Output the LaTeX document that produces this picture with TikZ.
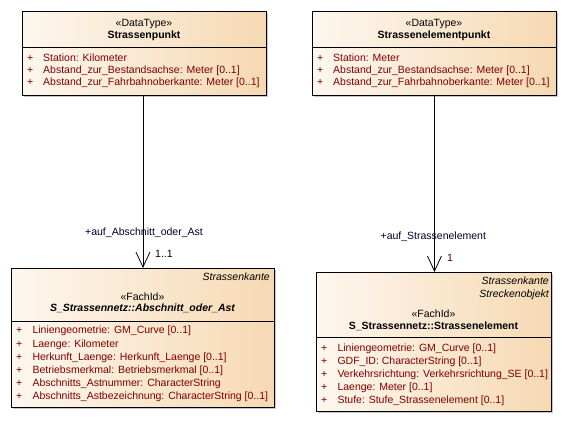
\documentclass[tikz,border=0pt]{standalone}
\usepackage{fontspec}
\setmainfont{Liberation Sans}
\usetikzlibrary{arrows.meta,shadows}
\definecolor{boxleft}{HTML}{FDF7EE}
\definecolor{boxright}{HTML}{F6D9B3}
\definecolor{attrred}{HTML}{800000}
\definecolor{rolenavy}{HTML}{00002A}
\tikzset{
	classbox/.style={draw=black, line width=0.9pt, left color=boxleft, right color=boxright, inner sep=0pt, anchor=north west,
		drop shadow={shadow xshift=2pt, shadow yshift=-2pt, fill=black!22, opacity=1}},
	txt/.style={font=\fontsize{10.5pt}{12pt}\selectfont, inner sep=0pt, text height=7.6pt, text depth=2pt},
	stereo/.style={txt},
	cname/.style={txt, font=\fontsize{10.5pt}{12pt}\selectfont\bfseries},
	attr/.style={txt, text=attrred, anchor=west},
	tagged/.style={txt, font=\fontsize{10.5pt}{12pt}\selectfont\itshape, anchor=east},
	assoc/.style={line width=0.8pt, -{Straight Barb[length=15pt, width=14pt, line width=0.8pt]}}
}

\begin{document}
\begin{tikzpicture}[x=1pt, y=-1pt]
			%%%%% START %%%%%
			\useasboundingbox (0,0) rectangle (566,441);
			
			% Strassenpunkt
			\node[classbox, minimum width=244pt, minimum height=84pt] (punkt) at (22,11) {};
			\draw[line width=0.9pt] (22,47) -- (266,47);
			\node[stereo] (punkt-st) at (144,23.3) {«DataType»};
			\node[cname] (punkt-nm) at (144,35.7) {Strassenpunkt};
			\foreach \y/\t [count=\i] in {58.3/Station: Kilometer, 70.7/Abstand\_zur\_Bestandsachse: Meter [0..1], 82.3/Abstand\_zur\_Fahrbahnoberkante: Meter [0..1]}{
				\node[attr] (punkt-p\i) at (27,\y) {+};
				\node[attr] (punkt-a\i) at (43,\y) {\t};
			}
			
			% Strassenelementpunkt
			\node[classbox, minimum width=244pt, minimum height=84pt] (elempunkt) at (312,11) {};
			\draw[line width=0.9pt] (312,47) -- (556,47);
			\node[stereo] (elempunkt-st) at (434,23.3) {«DataType»};
			\node[cname] (elempunkt-nm) at (434,35.7) {Strassenelementpunkt};
			\foreach \y/\t [count=\i] in {58.3/Station: Meter, 70.7/Abstand\_zur\_Bestandsachse: Meter [0..1], 82.3/Abstand\_zur\_Fahrbahnoberkante: Meter [0..1]}{
				\node[attr] (elempunkt-p\i) at (317,\y) {+};
				\node[attr] (elempunkt-a\i) at (333,\y) {\t};
			}
			
			% Abschnitt_oder_Ast
			\node[classbox, minimum width=263pt, minimum height=139pt] (abschnitt) at (11,268) {};
			\draw[line width=0.9pt] (11,321) -- (274,321);
			\node[tagged] (abschnitt-tg) at (270,277.3) {Strassenkante};
			\node[stereo] (abschnitt-st) at (142.5,297.3) {«FachId»};
			\node[cname, font=\fontsize{10.5pt}{12pt}\selectfont\bfseries\itshape] (abschnitt-nm) at (142.5,308.8) {S\_Strassennetz::Abschnitt\_oder\_Ast};
			\foreach \y/\t [count=\i] in {331/Liniengeometrie: GM\_Curve [0..1], 344.3/Laenge: Kilometer, 357.3/Herkunft\_Laenge: Herkunft\_Laenge [0..1], 370.3/Betriebsmerkmal: Betriebsmerkmal [0..1], 383.3/Abschnitts\_Astnummer: CharacterString, 396.3/Abschnitts\_Astbezeichnung: CharacterString [0..1]}{
				\node[attr] (abschnitt-p\i) at (16,\y) {+};
				\node[attr] (abschnitt-a\i) at (32.3,\y) {\t};
			}
			
			% Strassenelement
			\node[classbox, minimum width=235pt, minimum height=139pt] (element) at (316,272) {};
			\draw[line width=0.9pt] (316,337.3) -- (551,337.3);
			\node[tagged] (element-tg1) at (549,281.7) {Strassenkante};
			\node[tagged] (element-tg2) at (549,295) {Streckenobjekt};
			\node[stereo] (element-st) at (433.5,314.3) {«FachId»};
			\node[cname] (element-nm) at (433.5,326.7) {S\_Strassennetz::Strassenelement};
			\foreach \y/\t [count=\i] in {348.3/Liniengeometrie: GM\_Curve [0..1], 361.5/GDF\_ID: CharacterString [0..1], 374.5/Verkehrsrichtung: Verkehrsrichtung\_SE [0..1], 387.7/Laenge: Meter [0..1], 401/Stufe: Stufe\_Strassenelement [0..1]}{
				\node[attr] (element-p\i) at (321,\y) {+};
				\node[attr] (element-a\i) at (337.3,\y) {\t};
			}
			
			% associations
			\draw[assoc] (punkt.south -| abschnitt.north) -- (abschnitt.north);
			\node[txt, text=rolenavy] (abschnitt-role) at (144,232.7) {+auf\_Abschnitt\_oder\_Ast};
			\node[txt, anchor=west] (abschnitt-mult) at (155,255) {1..1};
			
			\draw[assoc] (elempunkt.south) -- (elempunkt.south |- element.north);
			\node[txt, text=rolenavy] (element-role) at (433.3,236.7) {+auf\_Strassenelement};
			\node[txt, text=attrred!70!black, anchor=west] (element-mult) at (447,259) {1};
			
			%%%%% END %%%%%
\end{tikzpicture}
\end{document}
